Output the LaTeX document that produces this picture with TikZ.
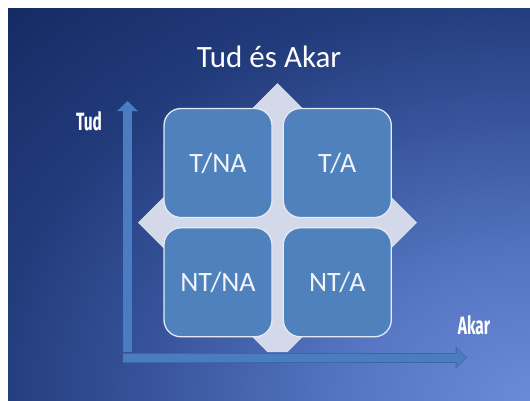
\documentclass[tikz,border=0pt]{standalone}
\usepackage{fontspec}
\setmainfont{Carlito}
\newfontfamily\axisfont{Fira Sans}
\usepackage{graphicx}
\usetikzlibrary{arrows.meta,positioning}
\definecolor{glowA}{HTML}{6B8BD8}
\definecolor{glowB}{HTML}{5676C4}
\definecolor{glowC}{HTML}{38559C}
\definecolor{glowD}{HTML}{223B7B}
\definecolor{glowE}{HTML}{152A63}
\definecolor{cellblue}{HTML}{4F81BD}
\definecolor{cellrim}{HTML}{E3EAF4}
\definecolor{celltext}{HTML}{F0F4FA}
\definecolor{diamondgrey}{HTML}{D3D9E8}
\definecolor{axisblue}{HTML}{4A7DC0}
\definecolor{axisedge}{HTML}{3C66A8}
\pgfdeclareradialshading{slideglow}{\pgfpoint{0bp}{0bp}}{color(0bp)=(glowA); color(6bp)=(glowB); color(12.5bp)=(glowC); color(18bp)=(glowD); color(25bp)=(glowE); color(36bp)=(glowE)}

\begin{document}
\begin{tikzpicture}[x=1pt,y=-1pt,
cell/.style={draw=cellrim,line width=1.3pt,fill=cellblue,rounded corners=17pt,minimum width=108pt,minimum height=109pt,inner sep=0pt,text=celltext,font=\fontsize{28}{33}\selectfont},
axis/.style={axisblue,line width=9pt,-{Triangle[length=10pt,width=20pt]}},
axislabel/.style={text=white,font=\axisfont\bfseries\fontsize{25}{30}\selectfont}]
\useasboundingbox(0,0)rectangle(530,400);
\fill[white](0,0)rectangle(530,400);
% slide background
\begin{scope}
\clip(8,8)rectangle(530,400);
\shade[shading=slideglow](-220,-160)rectangle(1280,960);
\end{scope}
\node[text=white,font=\fontsize{31}{37}\selectfont](title)at(269,57){Tud és Akar};
% diamond behind the grid, flat at the bottom
\fill[diamondgrey](277.5,83)--(417,222.5)--(287.5,352)--(267.5,352)--(138,222.5)--cycle;
% the four cells
\node[cell](tna)at(218,163){T/NA};
\node[cell,right=10pt of tna](ta){T/A};
\node[cell,below=9pt of tna](ntna){NT/NA};
\node[cell,right=10pt of ntna](nta){NT/A};
% axes
\coordinate(vbot)at(127.5,352);
\coordinate(vtop)at(127.5,101);
\coordinate(hleft)at(123,357.5);
\coordinate(hright)at(467,357.5);
\draw[axis](vbot)--(vtop);
\draw[axis,axisedge,line width=10pt,-{Triangle[length=11.5pt,width=22pt]}](hleft)--(hright);
\draw[axis,shorten >=1pt,line width=8pt,-{Triangle[length=9.5pt,width=19pt]}](hleft)--(hright);
\node[axislabel](tud)at(89,121){\scalebox{0.62}[1]{Tud}};
\node[axislabel](akar)at(474,325){\scalebox{0.62}[1]{Akar}};
\end{tikzpicture}
\end{document}
